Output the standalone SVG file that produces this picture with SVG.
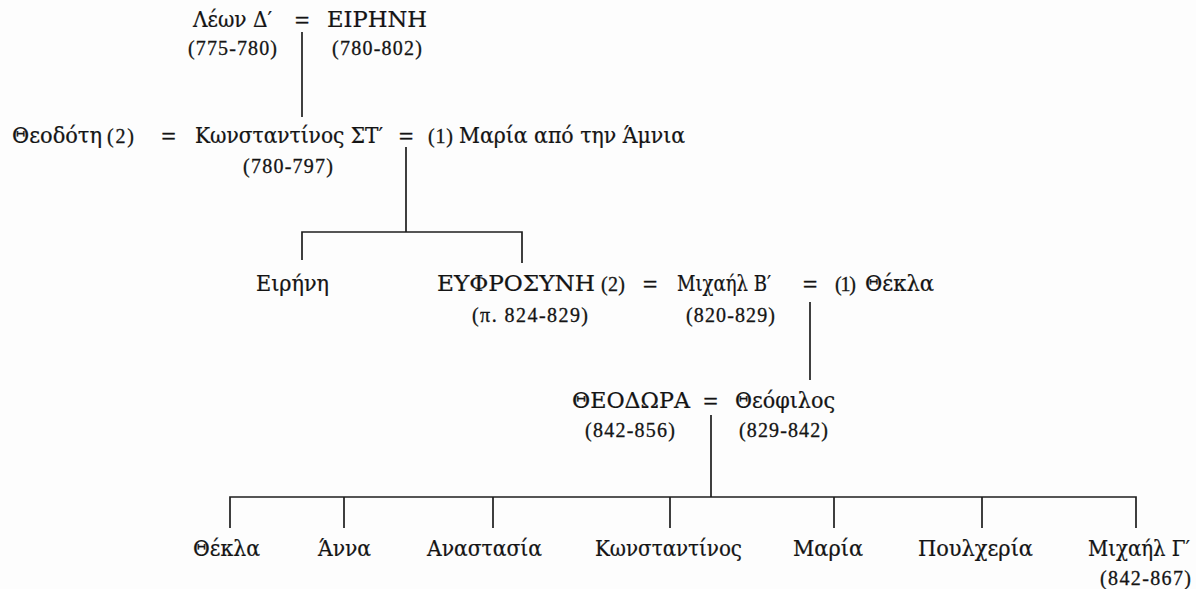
<svg xmlns="http://www.w3.org/2000/svg" width="1196" height="589" viewBox="0 0 1196 589">
<style>
text{font-family:"Liberation Serif","Times New Roman",serif;fill:#141414;stroke:#141414;stroke-width:0.3}
.n{font-family:"DejaVu Serif","Liberation Serif",serif;font-stretch:condensed;font-size:22px;stroke-width:0.22}
.d{font-size:20px}
.s{font-size:20px}
.eq{font-size:26px;text-anchor:middle}
.ln{stroke:#1e1e1e;stroke-width:1.7;fill:none}
</style>
<rect width="1196" height="589" fill="#fdfdfd"/>
<g id="connectors">
<path class="ln" d="M302 32V117"/>
<path class="ln" d="M406 147V232M302 260V232H522V263"/>
<path class="ln" d="M810 302V380"/>
<path class="ln" d="M711 415V497M230 528V497H1136V528M344 497V528M493 497V528M670 497V528M834 497V528M982 497V528"/>
</g>
<g id="leon">
<text class="n" x="193" y="27" textLength="79" lengthAdjust="spacingAndGlyphs">Λέων Δ′</text>
<text class="d" x="188" y="55" textLength="89">(775-780)</text>
</g>
<text class="eq" x="302" y="28.5">=</text>
<g id="eirini">
<text class="n" x="327" y="27" textLength="100" lengthAdjust="spacingAndGlyphs">ΕΙΡΗΝΗ</text>
<text class="d" x="332" y="55" textLength="90">(780-802)</text>
</g>
<g id="theodoti">
<text class="n" x="12" y="143" textLength="90" lengthAdjust="spacingAndGlyphs">Θεοδότη</text>
<text class="s" x="107" y="143" textLength="27">(2)</text>
</g>
<text class="eq" x="168.5" y="144.5">=</text>
<g id="konstantinos6">
<text class="n" x="195" y="143" textLength="188" lengthAdjust="spacingAndGlyphs">Κωνσταντίνος ΣΤ′</text>
<text class="d" x="243" y="173" textLength="90">(780-797)</text>
</g>
<text class="eq" x="406" y="144.5">=</text>
<g id="maria-amnia">
<text class="s" x="428" y="143" textLength="25">(1)</text>
<text class="n" x="459" y="143" textLength="226" lengthAdjust="spacingAndGlyphs">Μαρία από την Άμνια</text>
</g>
<g id="eirini-daughter">
<text class="n" x="256" y="291" textLength="73" lengthAdjust="spacingAndGlyphs">Ειρήνη</text>
</g>
<g id="efrosyni">
<text class="n" x="437" y="291" textLength="158" lengthAdjust="spacingAndGlyphs">ΕΥΦΡΟΣΥΝΗ</text>
<text class="s" x="601" y="291" textLength="24">(2)</text>
<text class="d" x="472" y="322" textLength="116">(π. 824-829)</text>
</g>
<text class="eq" x="650" y="292.5">=</text>
<g id="michael2">
<text class="n" x="677" y="291" textLength="94" lengthAdjust="spacingAndGlyphs">Μιχαήλ Β′</text>
<text class="d" x="686" y="322" textLength="89">(820-829)</text>
</g>
<text class="eq" x="810" y="292.5">=</text>
<g id="thekla-wife">
<text class="s" x="835" y="291" textLength="21">(1)</text>
<text class="n" x="865" y="291" textLength="69" lengthAdjust="spacingAndGlyphs">Θέκλα</text>
</g>
<g id="theodora">
<text class="n" x="572" y="408" textLength="118" lengthAdjust="spacingAndGlyphs">ΘΕΟΔΩΡΑ</text>
<text class="d" x="585" y="437" textLength="90">(842-856)</text>
</g>
<text class="eq" x="710.5" y="409.5">=</text>
<g id="theofilos">
<text class="n" x="735" y="408" textLength="100" lengthAdjust="spacingAndGlyphs">Θεόφιλος</text>
<text class="d" x="739" y="437" textLength="89">(829-842)</text>
</g>
<g id="thekla"><text class="n" x="193" y="556" textLength="67" lengthAdjust="spacingAndGlyphs">Θέκλα</text></g>
<g id="anna"><text class="n" x="318" y="556" textLength="53" lengthAdjust="spacingAndGlyphs">Άννα</text></g>
<g id="anastasia"><text class="n" x="427" y="556" textLength="115" lengthAdjust="spacingAndGlyphs">Αναστασία</text></g>
<g id="konstantinos"><text class="n" x="595" y="556" textLength="147" lengthAdjust="spacingAndGlyphs">Κωνσταντίνος</text></g>
<g id="maria"><text class="n" x="793" y="556" textLength="70" lengthAdjust="spacingAndGlyphs">Μαρία</text></g>
<g id="poulcheria"><text class="n" x="918" y="556" textLength="115" lengthAdjust="spacingAndGlyphs">Πουλχερία</text></g>
<g id="michael3">
<text class="n" x="1088" y="556" textLength="102" lengthAdjust="spacingAndGlyphs">Μιχαήλ Γ′</text>
<text class="d" x="1100" y="585" textLength="91">(842-867)</text>
</g>
</svg>
